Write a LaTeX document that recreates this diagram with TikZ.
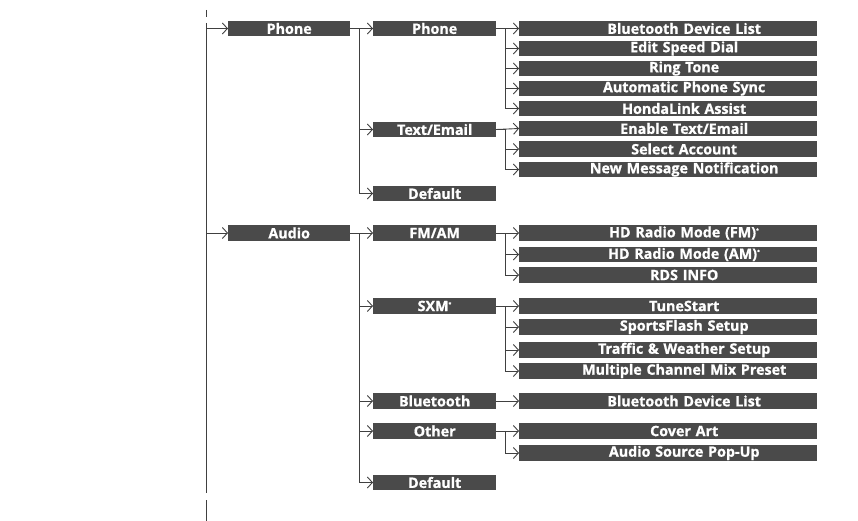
\documentclass[tikz,border=0pt]{standalone}
\usepackage{fontspec}
\setmainfont{Open Sans}[BoldFeatures={FakeBold=0.9}]
\usepackage{xcolor}
\usetikzlibrary{arrows.meta}

\definecolor{boxgray}{HTML}{4A4A4A}
\definecolor{linegray}{HTML}{404040}
\newcommand{\opt}{\textsuperscript{\tiny*}}

\tikzset{
  menubox/.style={fill=boxgray, text=white, font=\bfseries\fontsize{14.3}{14}\selectfont,
    minimum height=15.5pt, inner sep=0pt, anchor=west},
  topbox/.style={menubox, minimum width=122pt},
  midbox/.style={menubox, minimum width=123pt},
  leafbox/.style={menubox, text width=298pt, align=center,
    execute at begin node={\noindent\hspace*{32pt}}},
  link/.style={draw=linegray, line width=0.9pt, -{Straight Barb[length=5pt,width=11pt]}},
}

\begin{document}
\begin{tikzpicture}[x=1pt, y=-1pt]
  \useasboundingbox (0,0) rectangle (858,521);

  % Main line
  \coordinate (top) at (206,23);
  \coordinate (bot) at (206,493);
  \draw[linegray, line width=0.9pt] (top) -- (bot);
  \draw[linegray, line width=0.9pt] (206,10) -- (206,17);
  \draw[linegray, line width=0.9pt] (206,500) -- (206,521);

  % Phone
  \node[topbox] (phone) at (228,28.5) {Phone};
  \node[midbox] (phonesub) at (373,28.5) {Phone};
  \node[midbox] (text) at (373,129.5) {Text/Email};
  \node[midbox] (phonedef) at (373,193.5) {Default};

  \node[leafbox] (btlist) at (519,28.5) {Bluetooth Device List};
  \node[leafbox] (speed) at (519,48.5) {Edit Speed Dial};
  \node[leafbox] (ring) at (519,68.5) {Ring Tone};
  \node[leafbox] (sync) at (519,88.5) {Automatic Phone Sync};
  \node[leafbox] (link) at (519,108.5) {HondaLink Assist};
  \node[leafbox] (enable) at (519,128.5) {Enable Text/Email};
  \node[leafbox] (account) at (519,149) {Select Account};
  \node[leafbox] (notify) at (519,169.5) {New Message Notification};

  % Audio
  \node[topbox] (audio) at (228,233) {Audio};
  \node[midbox] (fmam) at (373,233) {FM/AM};
  \node[midbox] (sxm) at (373,306) {SXM\opt};
  \node[midbox] (bt) at (373,401) {Bluetooth};
  \node[midbox] (other) at (373,431) {Other};
  \node[midbox] (audiodef) at (373,482.5) {Default};

  \node[leafbox] (hdfm) at (519,233) {HD Radio Mode (FM)\opt};
  \node[leafbox] (hdam) at (519,254.5) {HD Radio Mode (AM)\opt};
  \node[leafbox] (rds) at (519,275) {RDS INFO};
  \node[leafbox] (tune) at (519,306) {TuneStart};
  \node[leafbox] (sports) at (519,327) {SportsFlash Setup};
  \node[leafbox] (traffic) at (519,350) {Traffic \& Weather Setup};
  \node[leafbox] (mix) at (519,371) {Multiple Channel Mix Preset};
  \node[leafbox] (btdev) at (519,401) {Bluetooth Device List};
  \node[leafbox] (cover) at (519,431) {Cover Art};
  \node[leafbox] (popup) at (519,453) {Audio Source Pop-Up};

  % Connectors
  \draw[link] (top |- phone.west) -- (phone.west);
  \draw[link] (top |- audio.west) -- (audio.west);

  \draw[link] (phone.east) -- (phonesub.west);
  \foreach \n in {text, phonedef}
    \draw[link] (phone.east) -- ++(9,0) |- (\n.west);
  \draw[link] (phonesub.east) -- (btlist.west);
  \foreach \n in {speed, ring, sync, link}
    \draw[link] (phonesub.east) -- ++(9,0) |- (\n.west);
  \draw[link] (text.east) -- (enable.west);
  \foreach \n in {account, notify}
    \draw[link] (text.east) -- ++(9,0) |- (\n.west);

  \draw[link] (audio.east) -- (fmam.west);
  \foreach \n in {sxm, bt, other, audiodef}
    \draw[link] (audio.east) -- ++(9,0) |- (\n.west);
  \draw[link] (fmam.east) -- (hdfm.west);
  \foreach \n in {hdam, rds}
    \draw[link] (fmam.east) -- ++(9,0) |- (\n.west);
  \draw[link] (sxm.east) -- (tune.west);
  \foreach \n in {sports, traffic, mix}
    \draw[link] (sxm.east) -- ++(9,0) |- (\n.west);
  \draw[link] (bt.east) -- (btdev.west);
  \draw[link] (other.east) -- (cover.west);
  \draw[link] (other.east) -- ++(9,0) |- (popup.west);
\end{tikzpicture}
\end{document}
